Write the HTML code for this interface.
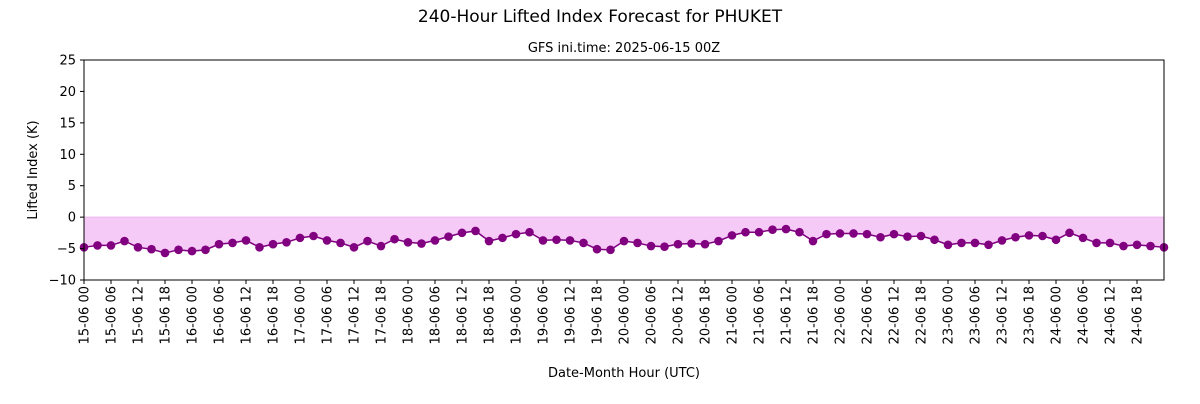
<!DOCTYPE html>
<html><head><meta charset="utf-8"><style>
body{margin:0;background:#fff;font-family:"DejaVu Sans","Liberation Sans",sans-serif}
</style></head><body>
<svg width="1200" height="400" id="c" xmlns="http://www.w3.org/2000/svg" font-family="DejaVu Sans, Liberation Sans, sans-serif">
<rect width="1200" height="400" fill="#fff"/>
<text x="600" y="22" font-size="17" text-anchor="middle">240-Hour Lifted Index Forecast for PHUKET</text>
<text x="624" y="52" font-size="13" text-anchor="middle">GFS ini.time: 2025-06-15 00Z</text>
<text x="624" y="377" font-size="13" text-anchor="middle">Date-Month Hour (UTC)</text>
<text transform="translate(37,170) rotate(-90)" font-size="13" text-anchor="middle">Lifted Index (K)</text>
<g id="plot"></g>
</svg>
<script>
const values=[-4.8,-4.5,-4.5,-3.8,-4.8,-5.1,-5.7,-5.2,-5.4,-5.2,-4.3,-4.1,-3.7,-4.8,-4.3,-4.0,-3.3,-3.0,-3.7,-4.1,-4.8,-3.8,-4.6,-3.5,-4.0,-4.2,-3.7,-3.1,-2.5,-2.2,-3.8,-3.3,-2.7,-2.4,-3.7,-3.6,-3.7,-4.1,-5.1,-5.2,-3.8,-4.1,-4.6,-4.7,-4.3,-4.2,-4.3,-3.8,-2.9,-2.4,-2.4,-2.0,-1.9,-2.4,-3.8,-2.7,-2.6,-2.6,-2.7,-3.2,-2.7,-3.1,-3.0,-3.6,-4.4,-4.1,-4.1,-4.4,-3.7,-3.2,-2.9,-3.0,-3.6,-2.5,-3.3,-4.1,-4.1,-4.6,-4.4,-4.6,-4.8];
const yTicks=[-10,-5,0,5,10,15,20,25];
const startDay=15, stepHours=3, totalHours=240, labelEvery=6;
const X0=84,X1=1164,Y0=60,Y1=280,ymin=-10,ymax=25;
const xs=h=>X0+(h/totalHours)*(X1-X0);
const ys=v=>Y1-(v-ymin)/(ymax-ymin)*(Y1-Y0);
const NS="http://www.w3.org/2000/svg";
const g=document.getElementById('plot');
function mk(t,a){const e=document.createElementNS(NS,t);for(const k in a)e.setAttribute(k,a[k]);g.appendChild(e);return e;}
let d='M'+xs(0)+','+ys(0);
values.forEach((v,i)=>{d+=' L'+xs(i*stepHours)+','+ys(v);});
d+=' L'+xs((values.length-1)*stepHours)+','+ys(0)+' Z';
let f=mk('path',{d:d,fill:'#f6caf6',stroke:'none'});


let zl=mk('line',{x1:X0,x2:X1,y1:ys(0),y2:ys(0),stroke:'#eeb6ee','stroke-width':1});


let pts=values.map((v,i)=>xs(i*stepHours)+','+ys(v)).join(' ');
let pl=mk('polyline',{points:pts,fill:'none',stroke:'#800080','stroke-width':1.5});


values.forEach((v,i)=>{
  const c=mk('circle',{cx:xs(i*stepHours),cy:ys(v),r:4.3,fill:'#800080'});
  
  
});
yTicks.forEach(t=>{
  const y=ys(t);
  const l=mk('line',{x1:X0-4,x2:X0,y1:y,y2:y,stroke:'#000'});
  
  
  const tx=mk('text',{x:X0-8,y:y+4.5,'font-size':13,'text-anchor':'end'});
  tx.textContent=(t<0?'\u2212'+Math.abs(t):t);
  
  
});
for(let h=0;h<totalHours;h+=labelEvery){
  const x=xs(h);
  const l=mk('line',{x1:x,x2:x,y1:Y1,y2:Y1+4,stroke:'#000'});
  
  
  const day=startDay+Math.floor(h/24), hr=h%24;
  const lab=day+'-06 '+String(hr).padStart(2,'0');
  const tx=mk('text',{transform:'translate('+(x+4.5)+','+(Y1+6)+') rotate(-90)','font-size':13,'text-anchor':'end'});
  tx.textContent=lab;
  
  
}
let fr=mk('rect',{x:X0,y:Y0,width:X1-X0,height:Y1-Y0,fill:'none',stroke:'#000','stroke-width':1});


</script>
</body></html>
